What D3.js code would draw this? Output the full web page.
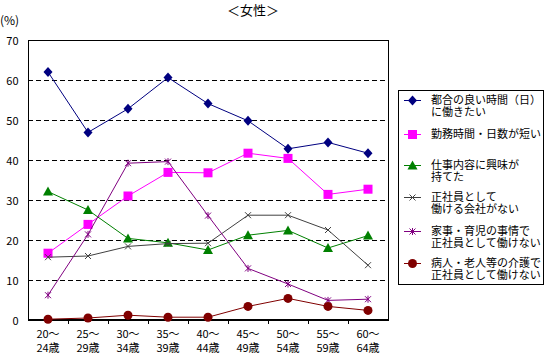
<!DOCTYPE html>
<html>
<head>
<meta charset="utf-8">
<script src="https://cdn.jsdelivr.net/npm/d3@7"></script>
<style>
body { margin: 0; background: #fff; }
text { font-family: "Noto Sans CJK JP", sans-serif; fill: #000; }
</style>
</head>
<body>
<svg id="chartSVG"></svg>
<script>
var chartWidth = 545
var chartHeight = 354
var plotLeft = 28, plotRight = 388, plotTop = 40, plotBottom = 320

var ageGroups = ['20～24歳', '25～29歳', '30～34歳', '35～39歳', '40～44歳', '45～49歳', '50～54歳', '55～59歳', '60～64歳']
var yTicks = [0, 10, 20, 30, 40, 50, 60, 70]

var convenientTime = [62.0, 46.9, 52.8, 60.6, 54.1, 49.8, 42.8, 44.4, 41.7]
var shortHours = [16.7, 23.9, 31.0, 36.9, 36.8, 41.7, 40.4, 31.4, 32.7]
var interestingWork = [32.1, 27.5, 20.4, 19.3, 17.5, 21.2, 22.4, 18.0, 21.1]
var noRegularJob = [15.7, 16.0, 18.4, 19.1, 19.2, 26.2, 26.2, 22.5, 13.7]
var houseworkChildcare = [6.2, 21.4, 39.2, 39.6, 26.1, 12.9, 9.0, 4.9, 5.2]
var nursingCare = [0.2, 0.5, 1.2, 0.7, 0.7, 3.4, 5.4, 3.4, 2.4]

var seriesLabels = [
    ['都合の良い時間（日）', 'に働きたい'],
    ['勤務時間・日数が短い'],
    ['仕事内容に興味が', '持てた'],
    ['正社員として', '働ける会社がない'],
    ['家事・育児の事情で', '正社員として働けない'],
    ['病人・老人等の介護で', '正社員として働けない']
]
var seriesValues = [convenientTime, shortHours, interestingWork, noRegularJob, houseworkChildcare, nursingCare]
var seriesColors = ['#000080', '#FF00FF', '#008000', '#404040', '#800080', '#800000']
var seriesMarkers = ['diamond', 'square', 'triangle', 'cross', 'star', 'circle']

var svg = d3.select('#chartSVG')
    .attr('width', chartWidth)
    .attr('height', chartHeight)

var xScale = d3.scalePoint().domain(ageGroups).range([plotLeft, plotRight]).padding(0.5)
var xBand = d3.scaleBand().domain(ageGroups).range([plotLeft, plotRight])
var yScale = d3.scaleLinear().domain([0, 70]).range([plotBottom, plotTop])

// title
svg.append('text')
    .attr('x', 253)
    .attr('y', 15)
    .attr('text-anchor', 'middle')
    .style('font-size', '13px')
    .text('＜女性＞')
svg.append('text')
    .attr('x', 0)
    .attr('y', 25)
    .style('font-size', '12px')
    .text('(%)')

// grid
svg.append('g').selectAll('line')
    .data(yTicks.filter(function (d) { return d > 0 && d < 70 }))
    .enter()
    .append('line')
    .attr('x1', plotLeft)
    .attr('x2', plotRight)
    .attr('y1', function (d) { return yScale(d) + 0.5 })
    .attr('y2', function (d) { return yScale(d) + 0.5 })
    .attr('stroke', '#000')
    .attr('stroke-dasharray', '5,3')

// frame
svg.append('rect')
    .attr('x', plotLeft + 0.5)
    .attr('y', plotTop + 0.5)
    .attr('width', plotRight - plotLeft)
    .attr('height', plotBottom - plotTop)
    .attr('fill', 'none')
    .attr('stroke', '#000')

// y axis
var yAxis = d3.axisLeft(yScale).tickValues(yTicks).tickSize(0).tickPadding(10)
var yAxisG = svg.append('g')
    .attr('transform', 'translate(' + (plotLeft + 0.5) + ',0.5)')
    .call(yAxis)
yAxisG.select('.domain').remove()
yAxisG.selectAll('text').style('font-size', '11px').attr('font-family', null)

// x axis
var xAxisG = svg.append('g')
    .attr('transform', 'translate(0,' + plotBottom + ')')
xAxisG.append('line')
    .attr('x1', plotLeft)
    .attr('x2', plotRight + 1)
    .attr('stroke', '#000')
    .attr('stroke-width', 2)
xAxisG.selectAll('.tickMark')
    .data(ageGroups.slice(1))
    .enter()
    .append('line')
    .attr('x1', function (d) { return xBand(d) + 0.5 })
    .attr('x2', function (d) { return xBand(d) + 0.5 })
    .attr('y1', 0)
    .attr('y2', 4)
    .attr('stroke', '#000')
var xLabels = xAxisG.selectAll('.xLabel')
    .data(ageGroups)
    .enter()
    .append('text')
    .attr('text-anchor', 'middle')
    .style('font-size', '11px')
xLabels.append('tspan')
    .attr('x', function (d) { return xScale(d) })
    .attr('y', 18)
    .text(function (d) { return d.split('～')[0] + '～' })
xLabels.append('tspan')
    .attr('x', function (d) { return xScale(d) })
    .attr('y', 32)
    .text(function (d) { return d.split('～')[1] })

function drawMarker(g, type, color) {
    if (type === 'diamond') {
        g.append('path').attr('d', 'M0,-5L4.5,0L0,5L-4.5,0Z').attr('fill', color)
    } else if (type === 'square') {
        g.append('rect').attr('x', -4.5).attr('y', -4.5).attr('width', 9).attr('height', 9).attr('fill', color)
    } else if (type === 'triangle') {
        g.append('path').attr('d', 'M0,-5L5,4L-5,4Z').attr('fill', color)
    } else if (type === 'cross') {
        g.append('path').attr('d', 'M-3,-3L3,3M-3,3L3,-3').attr('stroke', color).attr('fill', 'none')
    } else if (type === 'star') {
        g.append('path').attr('d', 'M-3,-3L3,3M-3,3L3,-3M0,-3.5L0,3.5').attr('stroke', color).attr('fill', 'none')
    } else if (type === 'circle') {
        g.append('circle').attr('r', 4.5).attr('fill', color)
    }
}

var line = d3.line()
    .x(function (d, i) { return xScale(ageGroups[i]) })
    .y(function (d) { return yScale(d) })

for (var s = 0; s < seriesValues.length; s++) {
    var layer = svg.append('g')
    layer.append('path')
        .datum(seriesValues[s])
        .attr('d', line)
        .attr('fill', 'none')
        .attr('stroke', seriesColors[s])
        .attr('stroke-width', 1)
    for (var i = 0; i < seriesValues[s].length; i++) {
        var mg = layer.append('g')
            .attr('transform', 'translate(' + xScale(ageGroups[i]) + ',' + yScale(seriesValues[s][i]) + ')')
        drawMarker(mg, seriesMarkers[s], seriesColors[s])
    }
}

// legend
var legend = svg.append('g')
legend.append('rect')
    .attr('x', 398.5)
    .attr('y', 90.5)
    .attr('width', 145)
    .attr('height', 194)
    .attr('fill', '#fff')
    .attr('stroke', '#000')
var legendY = [100, 134, 165, 197, 231, 263]
for (var k = 0; k < seriesLabels.length; k++) {
    var lg = legend.append('g').attr('transform', 'translate(0,' + legendY[k] + ')')
    lg.append('line')
        .attr('x1', 404).attr('x2', 421)
        .attr('y1', 0.5).attr('y2', 0.5)
        .attr('stroke', seriesColors[k])
    var mk = lg.append('g').attr('transform', 'translate(412.5,0.5)')
    drawMarker(mk, seriesMarkers[k], seriesColors[k])
    seriesLabels[k].forEach(function (txt, j) {
        lg.append('text')
            .attr('x', 431)
            .attr('y', 4 + j * 12)
            .style('font-size', '11px')
            .text(txt)
    })
}
</script>
</body>
</html>
